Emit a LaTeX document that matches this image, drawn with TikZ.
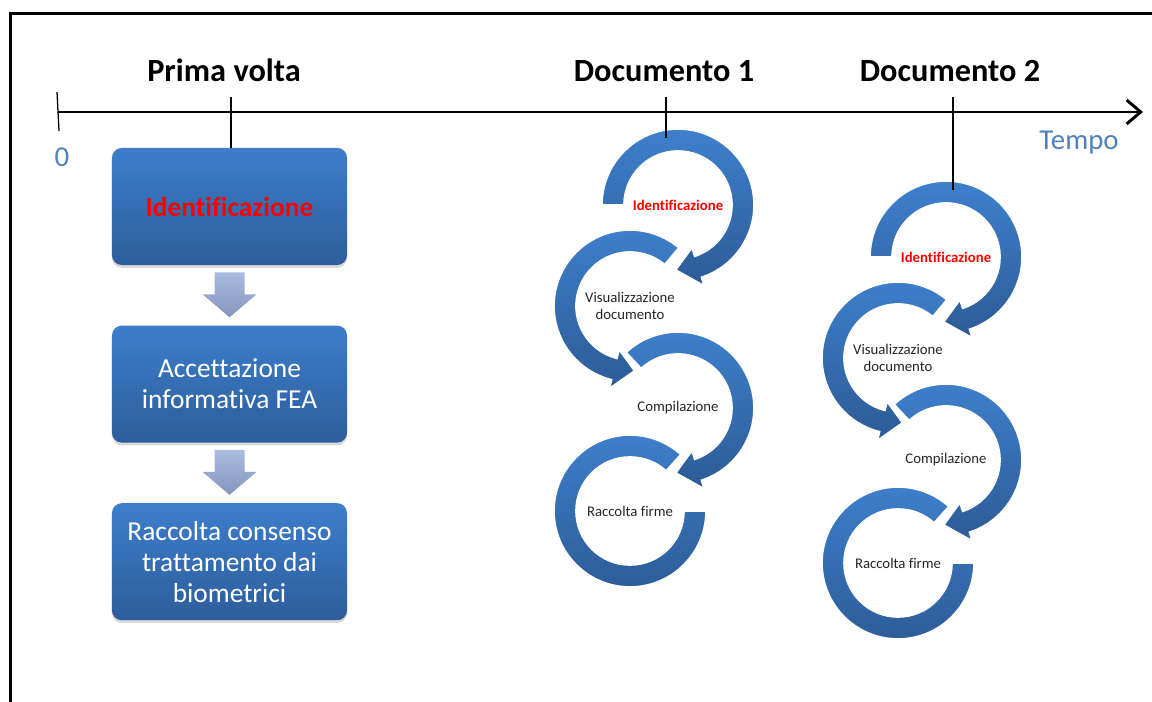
\documentclass[tikz,border=0pt]{standalone}
\usepackage{fontspec}
\setmainfont{Carlito}[Ligatures=NoCommon]
\usetikzlibrary{calc}
\usetikzlibrary{positioning}
\usetikzlibrary{arrows.meta}
\usetikzlibrary{shadows}

\definecolor{boxtop}{RGB}{61,126,203}
\definecolor{boxbot}{RGB}{45,93,155}
\definecolor{ringtop}{RGB}{62,128,205}
\definecolor{ringbot}{RGB}{45,91,150}
\definecolor{arrtop}{RGB}{170,188,224}
\definecolor{arrbot}{RGB}{132,150,189}
\definecolor{axisblue}{RGB}{79,129,189}
\definecolor{idred}{RGB}{255,0,0}

% circular arrow: #1 centre, #2 start angle, #3 head base angle, #4 tip angle
\newcommand{\ringarrow}[4]{%
  \shade[ring] ($(#1)+(#2:76)$) arc[start angle=#2, end angle=#3, radius=76]
    -- ($(#1)+(#3:85)$) -- ($(#1)+(#4:65)$) -- ($(#1)+(#3:45)$)
    -- ($(#1)+(#3:54)$) arc[start angle=#3, end angle=#2, radius=54] -- cycle;}
% circular band without head: #1 centre, #2 start angle, #3 end angle
\newcommand{\ringband}[3]{%
  \shade[ring] ($(#1)+(#2:76)$) arc[start angle=#2, end angle=#3, radius=76]
    -- ($(#1)+(#3:54)$) arc[start angle=#3, end angle=#2, radius=54] -- cycle;}

\begin{document}
\begin{tikzpicture}[x=0.025cm,y=0.025cm,
                    frame/.style={line width=2pt},
                    timeline/.style={line width=2.1pt,
                                     -{Straight Barb[length=10pt,width=17pt]}},
                    tick/.style={line width=0.9pt},
                    title/.style={font=\fontsize{23}{27}\selectfont\bfseries},
                    axislabel/.style={text=axisblue,font=\fontsize{20.5}{24}\selectfont},
                    stepbox/.style={rounded corners=7pt,top color=boxtop,bottom color=boxbot,
                                    minimum width=5.875cm,minimum height=2.925cm,
                                    text=white,align=center,inner sep=0pt,
                                    font=\fontsize{19.5}{22}\selectfont,
                                    drop shadow={shadow xshift=0pt,shadow yshift=-2pt,opacity=0.3}},
                    blockarrow/.style={top color=arrtop,bottom color=arrbot},
                    ring/.style={top color=ringtop,bottom color=ringbot,draw=white,line width=1.2pt},
                    ringlabel/.style={align=center,text=black!85,inner sep=0pt,
                                      font=\fontsize{10.5}{12}\selectfont}]
\useasboundingbox (0,0) rectangle (1152,702);
% frame
\draw[frame] (10.7,0) -- (10.7,688.7) -- (1152,688.7);
% time axis
\coordinate (origin) at (58,590);
\coordinate (time end) at (1143,590);
\draw[timeline] (origin) -- (time end);
\draw[tick] ($(origin)+(-1,20)$) -- ($(origin)+(1,-19)$);
\node[axislabel,anchor=base] (zero) at (62,535) {0};
\node[axislabel,anchor=base] (tempo) at (1079,552) {Tempo};
% titles
\node[title,anchor=base] (prima) at (224,620) {Prima volta};
\node[title,anchor=base] (doc 1 title) at (664,620) {Documento 1};
\node[title,anchor=base] (doc 2 title) at (950,620) {Documento 2};
% first time: steps
\node[stepbox,font=\fontsize{19.5}{22}\selectfont\bfseries,text=idred]
     (ident box) at (229.5,495.5) {Identificazione};
\node[stepbox,below=1.5cm of ident box] (fea box) {Accettazione\\informativa FEA};
\node[stepbox,below=1.5cm of fea box] (consent box)
     {Raccolta consenso\\trattamento dai\\biometrici};
\foreach \from in {ident box,fea box}
{
  \shade[blockarrow] ($(\from.south)+(-15,-7)$) -- ($(\from.south)+(15,-7)$)
     -- ($(\from.south)+(15,-29)$) -- ($(\from.south)+(27,-29)$)
     -- ($(\from.south)+(0,-52)$) -- ($(\from.south)+(-27,-29)$)
     -- ($(\from.south)+(-15,-29)$) -- cycle;
}
\coordinate (prima tick) at (231,605);
\draw[tick] (prima tick) -- (prima tick |- ident box.north);
% documents: circular cycles
\foreach \doc/\dx/\dy in {1/0/0,2/268/-52}
{
  \coordinate (d\doc-r1) at ({678+\dx},{497+\dy});
  \coordinate (d\doc-r2) at ({630+\dx},{396+\dy});
  \coordinate (d\doc-r3) at ({678+\dx},{294+\dy});
  \coordinate (d\doc-r4) at ({630+\dx},{191+\dy});
  \ringband{d\doc-r4}{48}{360}
  \ringarrow{d\doc-r3}{133}{-72}{-92}
  \ringarrow{d\doc-r2}{50}{256}{274}
  \ringarrow{d\doc-r1}{180}{-72}{-92}
  \node[ringlabel,text=idred,font=\fontsize{10.5}{12}\selectfont\bfseries]
       (lab\doc-1) at (d\doc-r1) {Identificazione};
  \node[ringlabel] (lab\doc-2) at (d\doc-r2) {Visualizzazione\\documento};
  \node[ringlabel] (lab\doc-3) at (d\doc-r3) {Compilazione};
  \node[ringlabel] (lab\doc-4) at (d\doc-r4) {Raccolta firme};
}
\coordinate (doc 1 tick) at (666,605);
\coordinate (doc 2 tick) at (953,605);
\draw[tick] (doc 1 tick) -- (doc 1 tick |- {$(d1-r1)+(0,67)$});
\draw[tick] (doc 2 tick) -- (doc 2 tick |- {$(d2-r1)+(0,67)$});
\end{tikzpicture}
\end{document}
